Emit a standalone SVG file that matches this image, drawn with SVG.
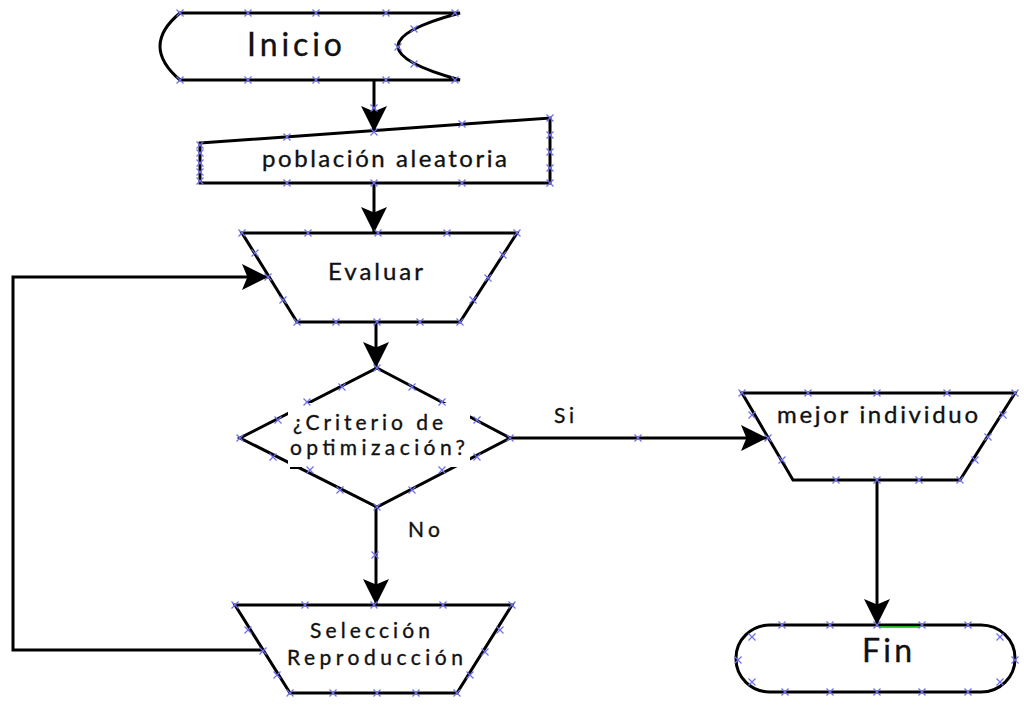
<svg xmlns="http://www.w3.org/2000/svg" xmlns:xlink="http://www.w3.org/1999/xlink" width="1024" height="708" viewBox="0 0 1024 708">
<defs>
<style>
.shape{fill:#fff;stroke:#000;stroke-width:3;stroke-linejoin:miter}
.conn{fill:none;stroke:#000;stroke-width:3}
.t{font-family:Lato,"Open Sans","Liberation Sans",sans-serif;fill:#111;stroke:#111;stroke-width:0.35}
.xm{stroke:#6f6fe8;stroke-width:1.2;fill:none}
</style>
<marker id="arr" markerUnits="userSpaceOnUse" markerWidth="26" markerHeight="26" viewBox="0 0 24 24" refX="24" refY="12" orient="auto">
<path d="M0,0 L24,12 L0,24 L5,12 Z" fill="#000"/>
</marker>
<path id="x" class="xm" d="M-3.5,-3.5 L3.5,3.5 M-3.5,3.5 L3.5,-3.5"/>
</defs>
<rect width="1024" height="708" fill="#fff"/>

<g id="connectors">
<line class="conn" x1="374" y1="80" x2="374" y2="132" marker-end="url(#arr)"/>
<line class="conn" x1="374" y1="183" x2="374" y2="233" marker-end="url(#arr)"/>
<line class="conn" x1="376" y1="322" x2="376" y2="368" marker-end="url(#arr)"/>
<line class="conn" x1="510" y1="438" x2="767" y2="438" marker-end="url(#arr)"/>
<line class="conn" x1="376" y1="507" x2="376" y2="605" marker-end="url(#arr)"/>
<line class="conn" x1="877" y1="480" x2="877" y2="625" marker-end="url(#arr)"/>
<polyline class="conn" points="263,650 13,650 13,277 268,277" marker-end="url(#arr)"/>
</g>

<g id="inicio">
<path class="shape" d="M180,13 L460,13 Q336,46 460,80 L180,80 Q140,46 180,13 Z"/>
<text class="t" x="247" y="56" font-size="32" textLength="95" lengthAdjust="spacing">Inicio</text>
</g>

<g id="poblacion">
<path class="shape" d="M200,143 L550,118 L550,183 L200,183 Z"/>
<text class="t" x="262" y="167" font-size="24" textLength="245" lengthAdjust="spacing">población aleatoria</text>
</g>

<g id="evaluar">
<path class="shape" d="M242,233 L517,233 L460,322 L297,322 Z"/>
<text class="t" x="328" y="280" font-size="24" textLength="95" lengthAdjust="spacing">Evaluar</text>
</g>

<g id="criterio">
<path class="shape" d="M377,368 L510,438 L377,507 L240,438 Z"/>
<rect x="288" y="403" width="182" height="64" fill="#fff"/>
<line x1="290" y1="468" x2="302" y2="468" stroke="#000" stroke-width="2"/>
<text class="t" x="293" y="430" font-size="21" textLength="150" lengthAdjust="spacing">¿Criterio de</text>
<text class="t" x="290" y="455" font-size="21" textLength="175" lengthAdjust="spacing">optimización?</text>
</g>

<g id="seleccion">
<path class="shape" d="M235,605 L512,605 L457,693 L290,693 Z"/>
<text class="t" x="310" y="638" font-size="21" textLength="120" lengthAdjust="spacing">Selección</text>
<text class="t" x="287" y="665" font-size="21" textLength="176" lengthAdjust="spacing">Reproducción</text>
</g>

<g id="mejor">
<path class="shape" d="M742,393 L1015,393 L960,480 L793,480 Z"/>
<text class="t" x="777" y="423" font-size="24" textLength="201" lengthAdjust="spacing">mejor individuo</text>
</g>

<g id="fin">
<rect class="shape" x="736" y="625" width="279" height="67" rx="34" ry="33"/>
<line x1="879" y1="627" x2="920" y2="627" stroke="#00c000" stroke-width="1.5"/>
<text class="t" x="862" y="662" font-size="32" textLength="50" lengthAdjust="spacing">Fin</text>
</g>

<g id="labels">
<text class="t" x="554" y="423" font-size="21" textLength="20" lengthAdjust="spacing">Si</text>
<text class="t" x="408" y="537" font-size="21" textLength="32" lengthAdjust="spacing">No</text>
</g>

<g id="handles">
<use xlink:href="#x" x="180" y="13"/><use xlink:href="#x" x="248" y="13"/><use xlink:href="#x" x="316" y="13"/><use xlink:href="#x" x="386" y="13"/><use xlink:href="#x" x="455" y="13"/>
<use xlink:href="#x" x="180" y="80"/><use xlink:href="#x" x="248" y="80"/><use xlink:href="#x" x="316" y="80"/><use xlink:href="#x" x="386" y="80"/><use xlink:href="#x" x="455" y="80"/>
<use xlink:href="#x" x="414" y="29"/><use xlink:href="#x" x="398" y="47"/><use xlink:href="#x" x="414" y="64"/>
<use xlink:href="#x" x="374" y="108"/>
<use xlink:href="#x" x="287" y="137"/><use xlink:href="#x" x="374" y="132"/><use xlink:href="#x" x="462" y="124"/><use xlink:href="#x" x="550" y="118"/>
<use xlink:href="#x" x="200" y="145"/><use xlink:href="#x" x="200" y="153"/><use xlink:href="#x" x="200" y="163"/><use xlink:href="#x" x="200" y="172"/><use xlink:href="#x" x="200" y="181"/>
<use xlink:href="#x" x="550" y="135"/><use xlink:href="#x" x="550" y="152"/><use xlink:href="#x" x="550" y="168"/>
<use xlink:href="#x" x="287" y="183"/><use xlink:href="#x" x="374" y="183"/><use xlink:href="#x" x="462" y="183"/><use xlink:href="#x" x="550" y="183"/>
<use xlink:href="#x" x="242" y="233"/><use xlink:href="#x" x="308" y="233"/><use xlink:href="#x" x="378" y="233"/><use xlink:href="#x" x="447" y="233"/><use xlink:href="#x" x="517" y="233"/>
<use xlink:href="#x" x="255" y="253"/><use xlink:href="#x" x="268" y="277"/><use xlink:href="#x" x="283" y="300"/>
<use xlink:href="#x" x="503" y="255"/><use xlink:href="#x" x="488" y="278"/><use xlink:href="#x" x="473" y="300"/>
<use xlink:href="#x" x="297" y="322"/><use xlink:href="#x" x="336" y="322"/><use xlink:href="#x" x="377" y="322"/><use xlink:href="#x" x="420" y="322"/><use xlink:href="#x" x="460" y="322"/>
<use xlink:href="#x" x="377" y="368"/><use xlink:href="#x" x="342" y="387"/><use xlink:href="#x" x="412" y="387"/><use xlink:href="#x" x="307" y="402"/><use xlink:href="#x" x="442" y="402"/>
<use xlink:href="#x" x="278" y="420"/><use xlink:href="#x" x="477" y="420"/><use xlink:href="#x" x="240" y="438"/><use xlink:href="#x" x="510" y="438"/>
<use xlink:href="#x" x="273" y="457"/><use xlink:href="#x" x="477" y="457"/><use xlink:href="#x" x="310" y="470"/><use xlink:href="#x" x="442" y="470"/>
<use xlink:href="#x" x="340" y="490"/><use xlink:href="#x" x="412" y="490"/><use xlink:href="#x" x="377" y="507"/>
<use xlink:href="#x" x="638" y="438"/><use xlink:href="#x" x="375" y="555"/>
<use xlink:href="#x" x="742" y="393"/><use xlink:href="#x" x="808" y="393"/><use xlink:href="#x" x="877" y="393"/><use xlink:href="#x" x="947" y="393"/><use xlink:href="#x" x="1015" y="393"/>
<use xlink:href="#x" x="752" y="415"/><use xlink:href="#x" x="768" y="438"/><use xlink:href="#x" x="782" y="460"/>
<use xlink:href="#x" x="1003" y="415"/><use xlink:href="#x" x="988" y="437"/><use xlink:href="#x" x="975" y="460"/>
<use xlink:href="#x" x="836" y="480"/><use xlink:href="#x" x="877" y="480"/><use xlink:href="#x" x="919" y="480"/><use xlink:href="#x" x="960" y="480"/>
<use xlink:href="#x" x="782" y="625"/><use xlink:href="#x" x="830" y="625"/><use xlink:href="#x" x="877" y="625"/><use xlink:href="#x" x="922" y="625"/><use xlink:href="#x" x="968" y="625"/>
<use xlink:href="#x" x="785" y="692"/><use xlink:href="#x" x="830" y="692"/><use xlink:href="#x" x="877" y="692"/><use xlink:href="#x" x="922" y="692"/><use xlink:href="#x" x="968" y="692"/>
<use xlink:href="#x" x="752" y="637"/><use xlink:href="#x" x="738" y="660"/><use xlink:href="#x" x="752" y="682"/><use xlink:href="#x" x="1000" y="637"/><use xlink:href="#x" x="1015" y="660"/><use xlink:href="#x" x="1000" y="682"/>
<use xlink:href="#x" x="235" y="605"/><use xlink:href="#x" x="305" y="605"/><use xlink:href="#x" x="374" y="605"/><use xlink:href="#x" x="443" y="605"/><use xlink:href="#x" x="512" y="605"/>
<use xlink:href="#x" x="248" y="630"/><use xlink:href="#x" x="263" y="651"/><use xlink:href="#x" x="277" y="675"/>
<use xlink:href="#x" x="500" y="630"/><use xlink:href="#x" x="485" y="652"/><use xlink:href="#x" x="470" y="675"/>
<use xlink:href="#x" x="290" y="693"/><use xlink:href="#x" x="333" y="693"/><use xlink:href="#x" x="377" y="693"/><use xlink:href="#x" x="416" y="693"/><use xlink:href="#x" x="457" y="693"/>
</g>
</svg>
